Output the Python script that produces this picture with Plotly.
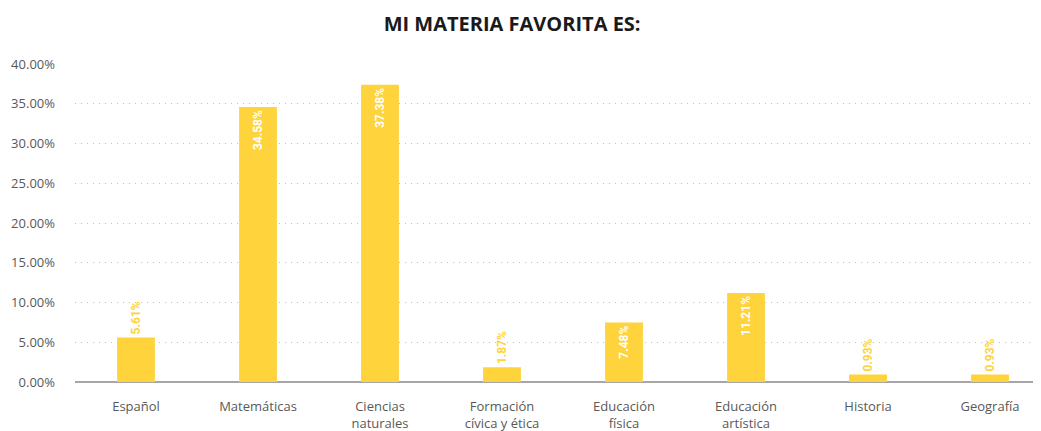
import plotly.graph_objects as go

categories = ["Español", "Matemáticas", "Ciencias<br>naturales", "Formación<br>cívica y ética",
              "Educación<br>física", "Educación<br>artística", "Historia", "Geografía"]
values = [5.61, 34.58, 37.38, 1.87, 7.48, 11.21, 0.93, 0.93]
label_positions = ["outside", "inside", "inside", "outside", "inside", "inside", "outside", "outside"]
tick_values = [0, 5, 10, 15, 20, 25, 30, 35, 40]

yellow = "#FED33C"
label_colors = [yellow if p == "outside" else "white" for p in label_positions]

fig = go.Figure(go.Bar(
    x=list(range(len(categories))),
    y=values,
    width=0.31,
    marker=dict(color=yellow, line=dict(width=0)),
    text=[f"{v:.2f}%" for v in values],
    textposition=label_positions,
    textangle=-90,
    insidetextanchor="end",
    textfont=dict(family="Roboto", size=12, color=label_colors, weight="bold"),
    cliponaxis=False,
))

fig.update_layout(
    width=1033, height=423,
    margin=dict(l=67, r=0, t=56, b=49, autoexpand=False),
    paper_bgcolor="white", plot_bgcolor="white",
    title=dict(text="<b>MI MATERIA FAVORITA ES:</b>", x=0.488, xanchor="center",
               yref="container", y=0.962, yanchor="middle",
               font=dict(family="Open Sans", size=20, color="#1a1a1a")),
    showlegend=False,
    uniformtext=dict(minsize=12, mode="show"),
)
fig.update_xaxes(
    tickmode="array", tickvals=list(range(len(categories))), ticktext=categories,
    range=[-0.5, 7.418], showgrid=False, zeroline=False, showline=False, automargin=False,
    tickfont=dict(family="Open Sans", size=13, color="#595959"), ticks="", ticklabelstandoff=15,
)
fig.update_yaxes(
    range=[0, 40], tickvals=tick_values, ticktext=[f"{t:.2f}%" for t in tick_values],
    showgrid=True, gridcolor="#bfbfbf", griddash="1px,5px", gridwidth=1.3,
    zeroline=True, zerolinecolor="#a6a6a6", zerolinewidth=2, automargin=False,
    tickfont=dict(family="Open Sans", size=13, color="#595959"), ticks="", ticklabelstandoff=19,
)
fig.write_html("out.html")
